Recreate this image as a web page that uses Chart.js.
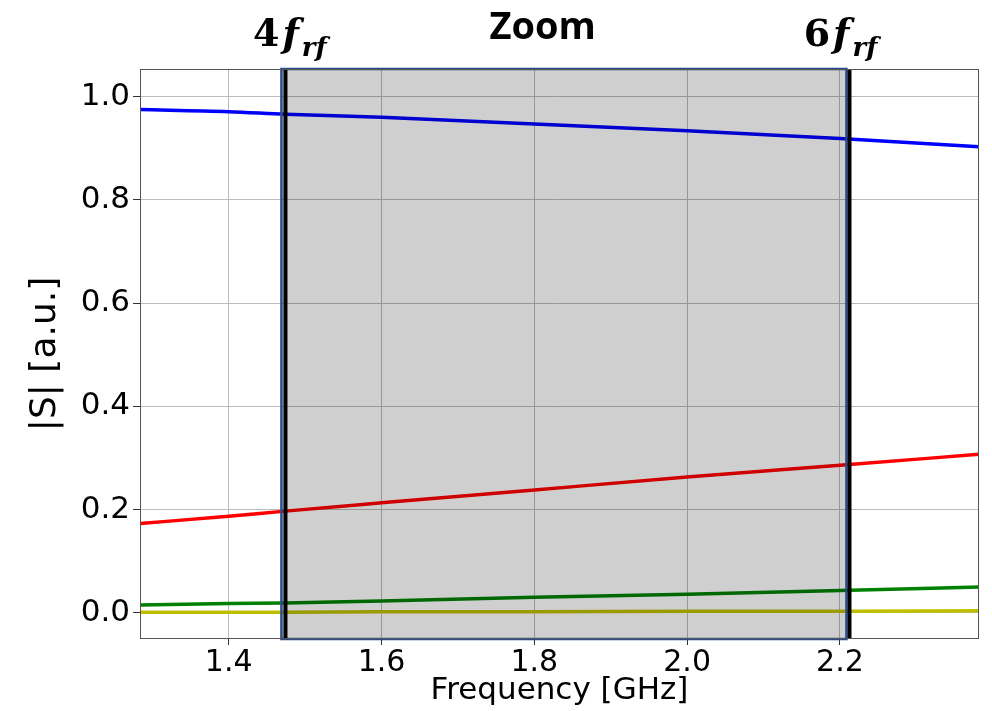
<!DOCTYPE html>
<html>
<head>
<meta charset="utf-8">
<script src="https://cdn.jsdelivr.net/npm/chart.js@4"></script>
<style>
  html, body { margin: 0; padding: 0; background: #fff; }
  #c { display: block; }
</style>
</head>
<body>
<canvas id="c" width="992" height="711"></canvas>
<script>
// values
const freq   = [1.284, 1.4, 1.474, 1.6, 1.8, 2.0, 2.2, 2.382];
const sBlue  = [0.975, 0.971, 0.966, 0.960, 0.947, 0.934, 0.919, 0.903];
const sRed   = [0.173, 0.187, 0.197, 0.213, 0.238, 0.263, 0.286, 0.307];
const sGreen = [0.015, 0.018, 0.019, 0.023, 0.030, 0.036, 0.043, 0.050];
const sYellow = [0.001, 0.001, 0.001, 0.002, 0.002, 0.003, 0.003, 0.004];

const xTicks = [1.4, 1.6, 1.8, 2.0, 2.2];
const yTicks = [0.0, 0.2, 0.4, 0.6, 0.8, 1.0];

const zoomStart = 1.469;
const zoomEnd = 2.2085;
const markerFreqs = [1.4743, 2.2125];
const markerDigits = ['4', '6'];
const markerLabelAt = [1.480, 2.2007];
const zoomLabelAt = 1.811;

function toPoints(ys) {
    return freq.map((f, i) => ({ x: f, y: ys[i] }));
}

function series(ys, color) {
    return {
        data: toPoints(ys),
        borderColor: color,
        borderWidth: 3.5,
        pointRadius: 0,
        cubicInterpolationMode: 'monotone',
        fill: false
    };
}

// draws 4f_rf style label centred at cx
function mathLabel(ctx, digit, cx, base) {
    const fDigit = 'bold 38px "DejaVu Serif"';
    const fF = 'bold italic 38px "DejaVu Serif"';
    const fSub = 'bold italic 26px "DejaVu Serif"';
    ctx.font = fDigit; const wd = ctx.measureText(digit).width;
    ctx.font = fF; const wf = ctx.measureText('f').width;
    ctx.font = fSub; const ws = ctx.measureText('rf').width;
    const gap = 3;
    let x = cx - (wd + wf + ws + gap * 2) / 2;
    ctx.textAlign = 'left';
    ctx.textBaseline = 'alphabetic';
    ctx.fillStyle = '#000';
    ctx.font = fDigit; ctx.fillText(digit, x, base); x += wd + gap;
    ctx.font = fF; ctx.fillText('f', x, base); x += wf + gap;
    ctx.font = fSub; ctx.fillText('rf', x, base + 10);
}

const overlay = {
    id: 'overlay',
    afterDatasetsDraw(chart) {
        const { ctx, chartArea: a, scales: { x } } = chart;
        const x0 = x.getPixelForValue(zoomStart);
        const x1 = x.getPixelForValue(zoomEnd);
        ctx.save();
        ctx.fillStyle = 'rgba(0,0,0,0.19)';
        ctx.fillRect(x0, a.top, x1 - x0, a.bottom - a.top);
        ctx.strokeStyle = '#2b4c8c';
        ctx.lineWidth = 2.5;
        ctx.strokeRect(x0, a.top, x1 - x0, a.bottom - a.top);
        ctx.strokeStyle = '#000';
        ctx.lineWidth = 4;
        markerFreqs.forEach(f => {
            const px = x.getPixelForValue(f);
            ctx.beginPath();
            ctx.moveTo(px, a.top);
            ctx.lineTo(px, a.bottom);
            ctx.stroke();
        });
        ctx.restore();
    },
    afterDraw(chart) {
        const { ctx, chartArea: a, scales: { x } } = chart;
        ctx.save();
        // axes frame
        ctx.strokeStyle = '#555';
        ctx.lineWidth = 1;
        ctx.strokeRect(a.left + 0.5, a.top + 0.5, a.right - a.left - 1, a.bottom - a.top - 1);
        // labels above plot
        markerDigits.forEach((d, i) => mathLabel(ctx, d, x.getPixelForValue(markerLabelAt[i]), 46));
        ctx.font = 'bold 38px "Open Sans"';
        ctx.textAlign = 'center';
        ctx.textBaseline = 'alphabetic';
        ctx.fillStyle = '#000';
        ctx.fillText('Zoom', x.getPixelForValue(zoomLabelAt), 39);
        ctx.restore();
    }
};

new Chart(document.getElementById('c'), {
    type: 'line',
    data: {
        datasets: [
            series(sBlue, '#0000ff'),
            series(sRed, '#ff0000'),
            series(sGreen, '#008000'),
            series(sYellow, '#bfbf00')
        ]
    },
    options: {
        responsive: false,
        animation: false,
        layout: { padding: { left: 0, right: 13, top: 69, bottom: 0 } },
        plugins: { legend: { display: false }, tooltip: { enabled: false } },
        scales: {
            x: {
                type: 'linear',
                min: 1.2839,
                max: 2.382,
                afterBuildTicks: s => { s.ticks = xTicks.map(v => ({ value: v })); },
                afterFit: s => { s.height = 72; },
                ticks: {
                    color: '#000',
                    font: { family: '"DejaVu Sans"', size: 30 },
                    padding: 0,
                    maxRotation: 0,
                    callback: v => v.toFixed(1)
                },
                grid: { color: '#bbbbbb', lineWidth: 1, tickLength: 6, tickColor: '#333' },
                border: { display: false },
                title: {
                    display: true,
                    text: 'Frequency [GHz]',
                    color: '#000',
                    font: { family: '"DejaVu Sans"', size: 31 },
                    padding: { top: 0, bottom: 1 }
                }
            },
            y: {
                type: 'linear',
                min: -0.0508,
                max: 1.0537,
                afterBuildTicks: s => { s.ticks = yTicks.map(v => ({ value: v })); },
                afterFit: s => { s.width = 140; },
                ticks: {
                    color: '#000',
                    font: { family: '"DejaVu Sans"', size: 31 },
                    padding: 3,
                    callback: v => v.toFixed(1)
                },
                grid: { color: '#bbbbbb', lineWidth: 1, tickLength: 7, tickColor: '#333' },
                border: { display: false },
                title: {
                    display: true,
                    text: '|S| [a.u.]',
                    color: '#000',
                    font: { family: '"DejaVu Sans"', size: 36 },
                    padding: { top: 24, bottom: 0 }
                }
            }
        }
    },
    plugins: [overlay]
});
</script>
</body>
</html>
